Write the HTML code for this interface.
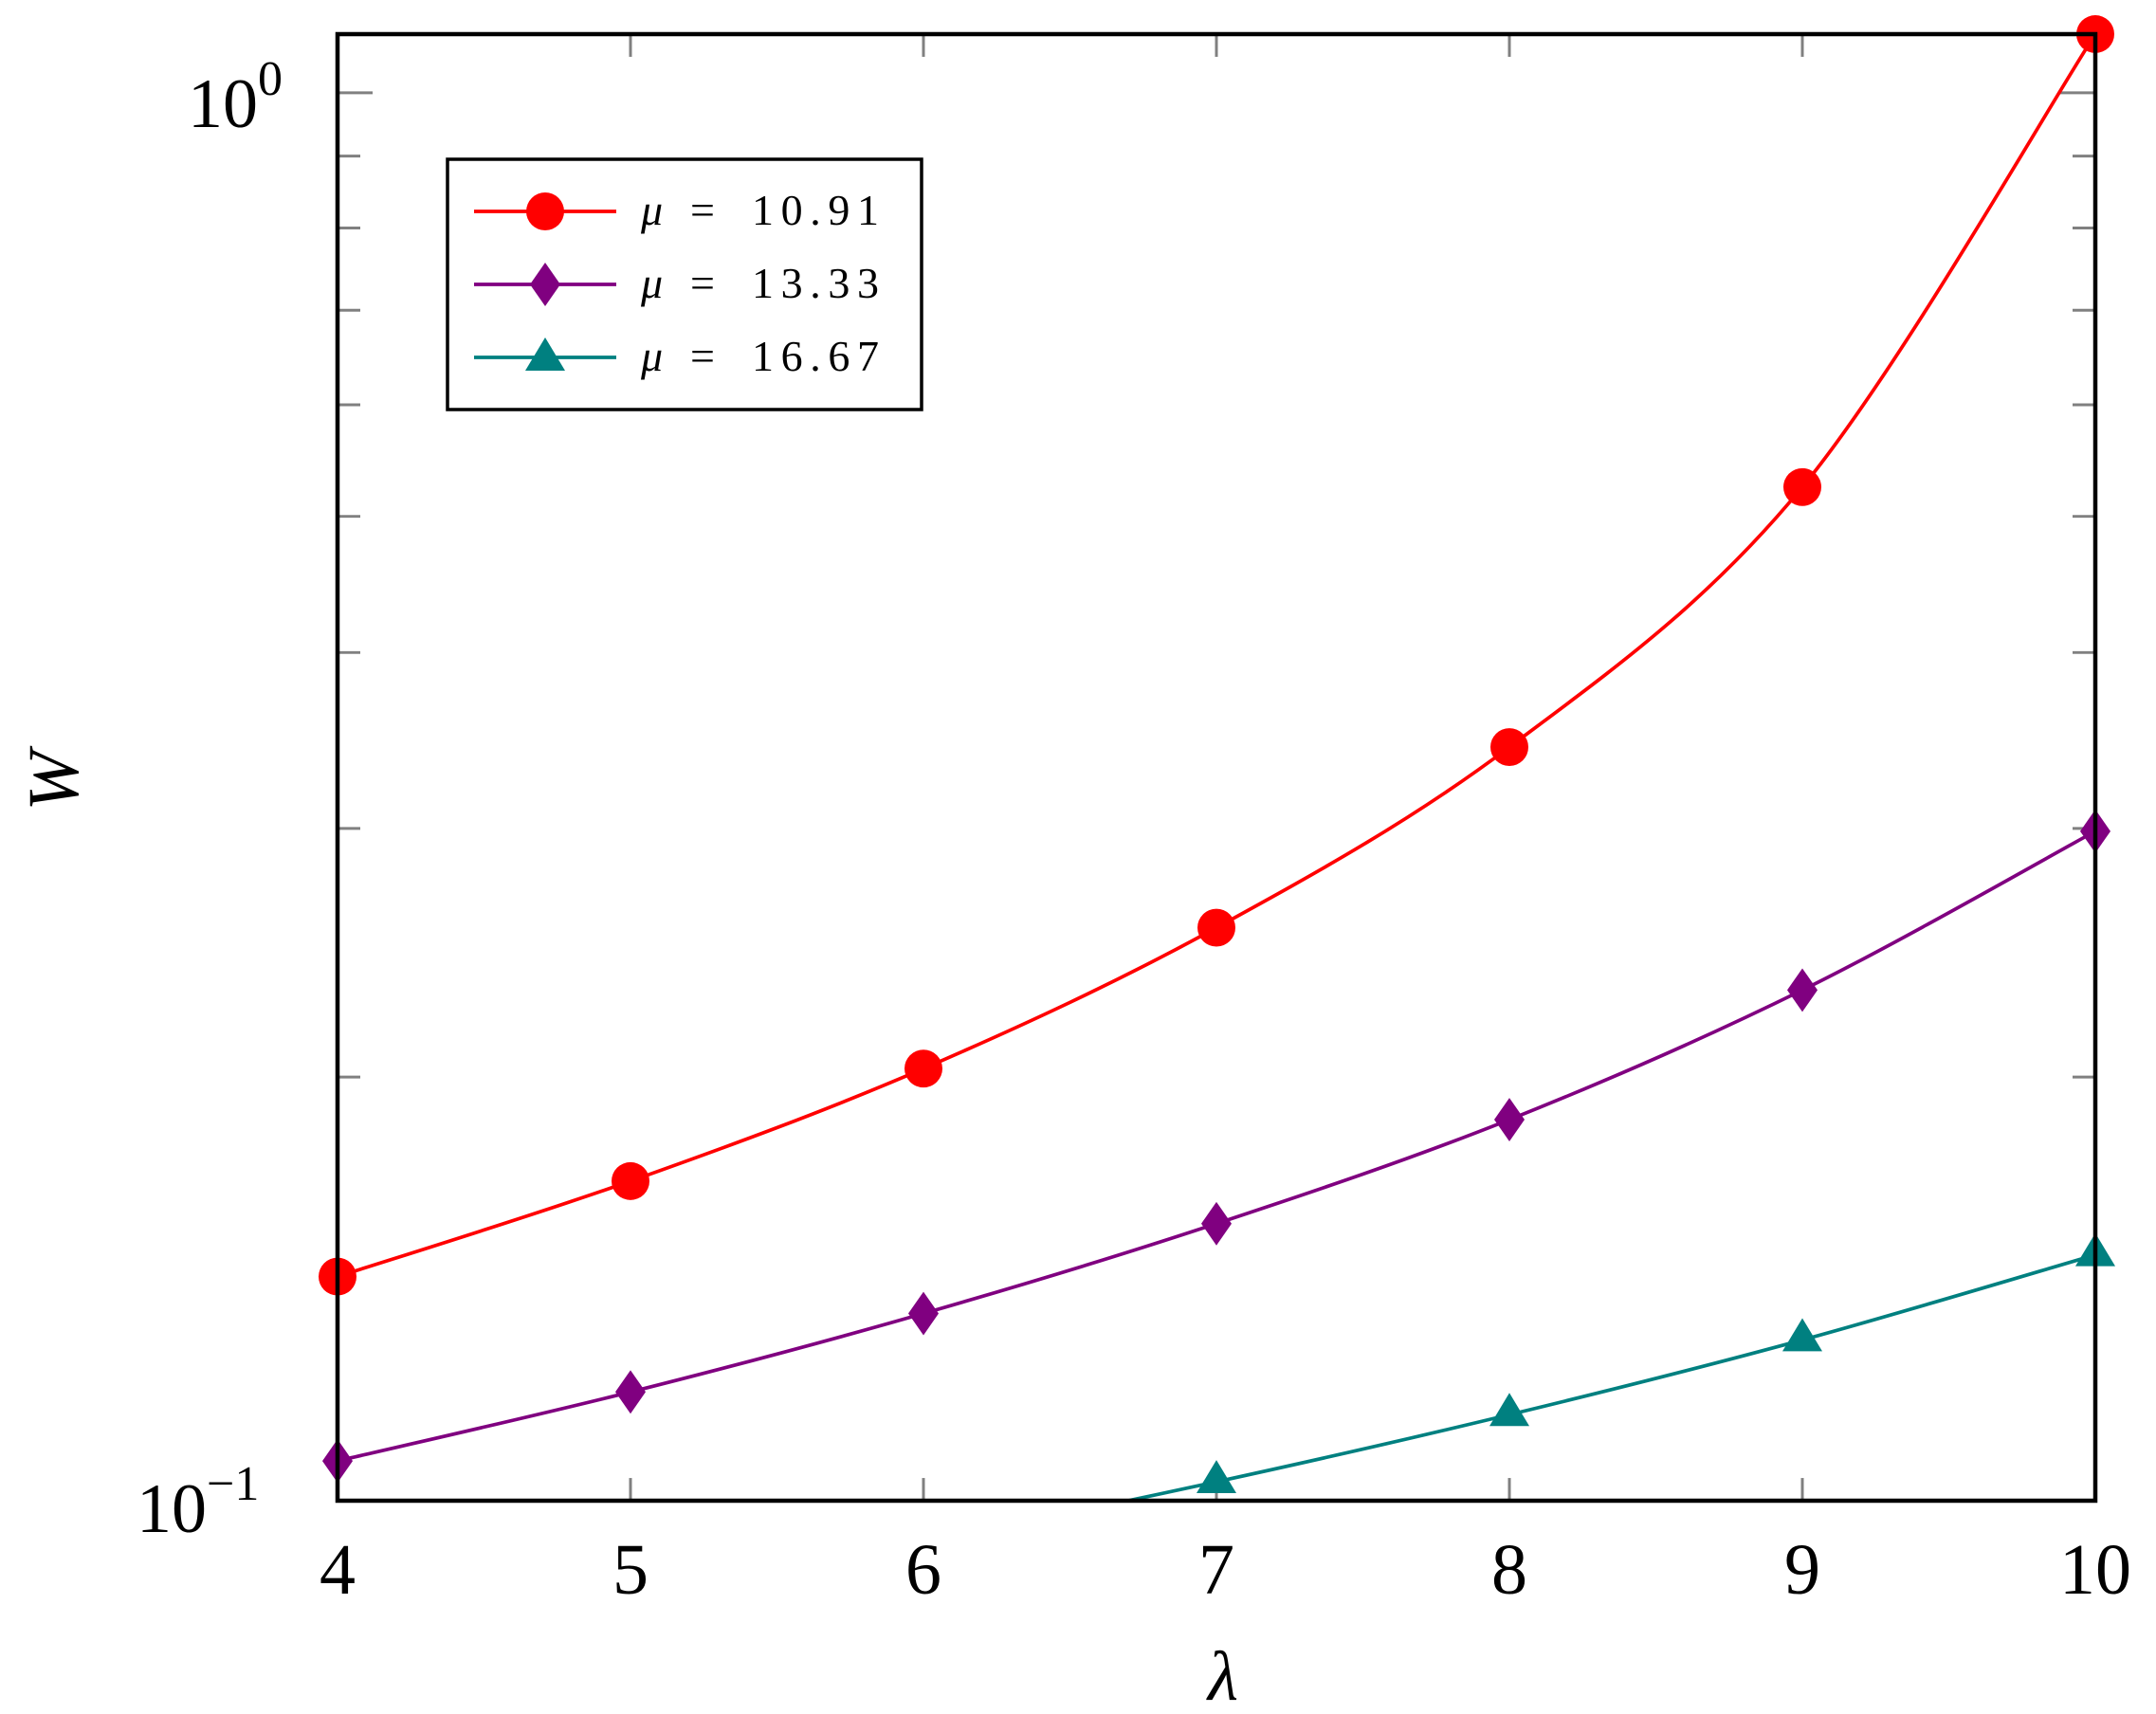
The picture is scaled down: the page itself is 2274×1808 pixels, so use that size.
<!DOCTYPE html>
<html><head><meta charset="utf-8"><style>html,body{margin:0;padding:0;background:#fff}svg{display:block}</style></head>
<body>
<svg width="2274" height="1808" viewBox="0 0 2274 1808" xmlns="http://www.w3.org/2000/svg" font-family="'Liberation Serif', serif">
<defs><clipPath id="c"><rect x="356" y="36" width="1854" height="1551"/></clipPath></defs>
<rect width="2274" height="1808" fill="#fff"/>
<g transform="matrix(1 0 0 0.99742 0 0.0929)">
<g stroke="#808080" stroke-width="3">
<line x1="665" y1="38" x2="665" y2="60"/><line x1="974" y1="38" x2="974" y2="60"/><line x1="1283" y1="38" x2="1283" y2="60"/><line x1="1592" y1="38" x2="1592" y2="60"/><line x1="1901" y1="38" x2="1901" y2="60"/>
<line x1="665" y1="1585" x2="665" y2="1563"/><line x1="974" y1="1585" x2="974" y2="1563"/><line x1="1283" y1="1585" x2="1283" y2="1563"/><line x1="1592" y1="1585" x2="1592" y2="1563"/><line x1="1901" y1="1585" x2="1901" y2="1563"/>
<line x1="358" y1="98" x2="393" y2="98"/>
<line x1="358" y1="1139" x2="380" y2="1139"/><line x1="358" y1="876" x2="380" y2="876"/><line x1="358" y1="690" x2="380" y2="690"/><line x1="358" y1="546" x2="380" y2="546"/><line x1="358" y1="428" x2="380" y2="428"/><line x1="358" y1="328" x2="380" y2="328"/><line x1="358" y1="241" x2="380" y2="241"/><line x1="358" y1="165" x2="380" y2="165"/>
<line x1="2208" y1="98" x2="2173" y2="98"/>
<line x1="2208" y1="1139" x2="2186" y2="1139"/><line x1="2208" y1="876" x2="2186" y2="876"/><line x1="2208" y1="690" x2="2186" y2="690"/><line x1="2208" y1="546" x2="2186" y2="546"/><line x1="2208" y1="428" x2="2186" y2="428"/><line x1="2208" y1="328" x2="2186" y2="328"/><line x1="2208" y1="241" x2="2186" y2="241"/><line x1="2208" y1="165" x2="2186" y2="165"/>
</g>
<g clip-path="url(#c)" fill="none" stroke-width="3.7">
<path stroke="#ff0000" d="M356,1350 C407.5,1333.2 562,1285.7 665,1249 C768,1212.3 871,1174.7 974,1130 C1077,1085.3 1180,1037.7 1283,981 C1386,924.3 1489,867.7 1592,790 C1695,712.3 1798,640.7 1901,515 C2004,389.3 2158.5,115.8 2210,36"/>
<path stroke="#800080" d="M356,1545 C407.5,1532.8 562,1498 665,1472 C768,1446 871,1418.7 974,1389 C1077,1359.3 1180,1328.2 1283,1294 C1386,1259.8 1489,1225.2 1592,1184 C1695,1142.8 1798,1097.8 1901,1047 C2004,996.2 2158.5,907 2210,879"/>
<path stroke="#008080" d="M356,1750 C407.5,1739.8 562,1708.8 665,1689 C768,1669.2 871,1651.3 974,1631 C1077,1610.7 1180,1589.5 1283,1567 C1386,1544.5 1489,1521 1592,1496 C1695,1471 1798,1445.2 1901,1417 C2004,1388.8 2158.5,1342 2210,1327"/>
</g>
<g fill="#ff0000">
<circle cx="356" cy="1350" r="20"/><circle cx="665" cy="1249" r="20"/><circle cx="974" cy="1130" r="20"/><circle cx="1283" cy="981" r="20"/><circle cx="1592" cy="790" r="20"/><circle cx="1901" cy="515" r="20"/><circle cx="2210" cy="36" r="20"/>
</g>
<g fill="#800080">
<polygon points="356,1522 372,1545 356,1568 340,1545"/>
<polygon points="665,1449 681,1472 665,1495 649,1472"/>
<polygon points="974,1366 990,1389 974,1412 958,1389"/>
<polygon points="1283,1271 1299,1294 1283,1317 1267,1294"/>
<polygon points="1592,1161 1608,1184 1592,1207 1576,1184"/>
<polygon points="1901,1024 1917,1047 1901,1070 1885,1047"/>
<polygon points="2210,856 2226,879 2210,902 2194,879"/>
</g>
<g fill="#008080">
<polygon points="1283,1544 1304,1579 1262,1579"/>
<polygon points="1592,1473 1613,1508 1571,1508"/>
<polygon points="1901,1394 1922,1429 1880,1429"/>
<polygon points="2210,1304 2231,1339 2189,1339"/>
</g>
<rect x="356" y="36" width="1854" height="1551" fill="none" stroke="#000" stroke-width="4.5"/>
</g>
<g font-size="76" fill="#000" text-anchor="middle">
<text x="356" y="1681">4</text><text x="665" y="1681">5</text><text x="974" y="1681">6</text><text x="1283" y="1681">7</text><text x="1592" y="1681">8</text><text x="1901" y="1681">9</text><text x="2210" y="1681">10</text>
</g>
<text x="198" y="134" font-size="74">10<tspan font-size="52" dy="-34">0</tspan></text>
<text x="144" y="1616" font-size="74">10<tspan font-size="52" dy="-34">−1</tspan></text>
<text x="1290" y="1793" font-size="74" font-style="italic" text-anchor="middle">λ</text>
<text transform="translate(82,824) rotate(-90)" font-size="76" font-style="italic" text-anchor="middle">W</text>
<rect x="472" y="168" width="500" height="264" fill="#fff" stroke="#000" stroke-width="3.5"/>
<g stroke-width="3.7"><line x1="500" y1="223" x2="650" y2="223" stroke="#ff0000"/><line x1="500" y1="300" x2="650" y2="300" stroke="#800080"/><line x1="500" y1="377" x2="650" y2="377" stroke="#008080"/></g>
<circle cx="575" cy="223" r="20" fill="#ff0000"/>
<polygon points="575,277 591,300 575,323 559,300" fill="#800080"/>
<polygon points="575,356 596,391 554,391" fill="#008080"/>
<g font-size="46" fill="#000">
<text x="676" y="237" font-style="italic">μ</text><text x="728" y="237">=</text><text x="793" y="237" textLength="134" lengthAdjust="spacing">10.91</text>
<text x="676" y="314" font-style="italic">μ</text><text x="728" y="314">=</text><text x="793" y="314" textLength="134" lengthAdjust="spacing">13.33</text>
<text x="676" y="391" font-style="italic">μ</text><text x="728" y="391">=</text><text x="793" y="391" textLength="134" lengthAdjust="spacing">16.67</text>
</g>
</svg>
</body></html>
